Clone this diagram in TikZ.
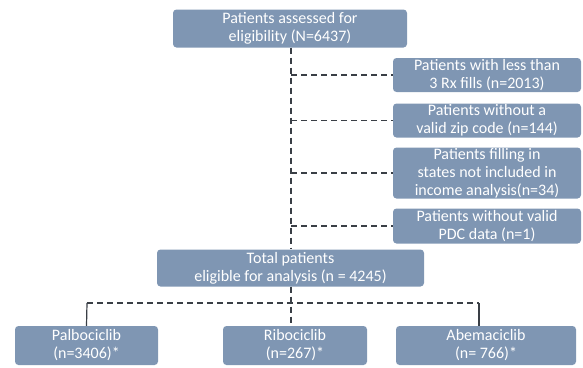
\documentclass[tikz,border=0pt]{standalone}
\usepackage{fontspec}
\setmainfont{Carlito}
\definecolor{boxfill}{HTML}{7F96B3}
\definecolor{linec}{HTML}{3A3F46}
\begin{document}
\begin{tikzpicture}[x=1pt,y=-1pt,
  box/.style={draw=none,fill=boxfill,rounded corners=3.5pt,text=white,align=center,
    inner sep=0pt,font=\fontsize{16}{18}\selectfont},
  conn/.style={draw=linec,line width=1.4pt,dash pattern=on 6pt off 4pt},
  solidconn/.style={draw=linec,line width=1.2pt}]
\useasboundingbox (0,0) rectangle (583,367);
\node[box,minimum width=234pt,minimum height=38pt] (top) at (290,28.5) {Patients assessed for\\eligibility (N=6437)};
\node[box,minimum width=188pt,minimum height=34pt] (s1) at (487,75) {Patients with less than\\3 Rx fills (n=2013)};
\node[box,minimum width=188pt,minimum height=34pt] (s2) at (487,120.5) {Patients without a\\valid zip code (n=144)};
\node[box,minimum width=188pt,minimum height=51pt] (s3) at (487,173) {Patients filling in\\states not included in\\income analysis(n=34)};
\node[box,minimum width=188pt,minimum height=35pt] (s4) at (487,226) {Patients without valid\\PDC data (n=1)};
\node[box,minimum width=267pt,minimum height=37pt] (tot) at (290.5,268) {Total patients\\eligible for analysis (n = 4245)};
\node[box,minimum width=143pt,minimum height=39pt] (pal) at (86.5,345.5) {Palbociclib\\(n=3406)*};
\node[box,minimum width=144pt,minimum height=39pt] (rib) at (295,345.5) {Ribociclib\\(n=267)*};
\node[box,minimum width=180pt,minimum height=39pt] (abe) at (486,345.5) {Abemaciclib\\(n= 766)*};
\coordinate (vx) at (291,0);
\draw[conn] (vx |- top.south) -- (vx |- tot.north);
\foreach \s in {s1,s2,s3,s4}{\draw[conn] (vx |- \s.west) -- (\s.west);}
\coordinate (hl) at (87,303);
\coordinate (hr) at (479,303);
\draw[conn] (vx |- tot.south) -- (vx |- rib.north);
\draw[conn] (hl) -- (hr);
\draw[solidconn] (hl) -- (pal.north);
\draw[solidconn] (hr) -- (hr |- abe.north);
\end{tikzpicture}
\end{document}
